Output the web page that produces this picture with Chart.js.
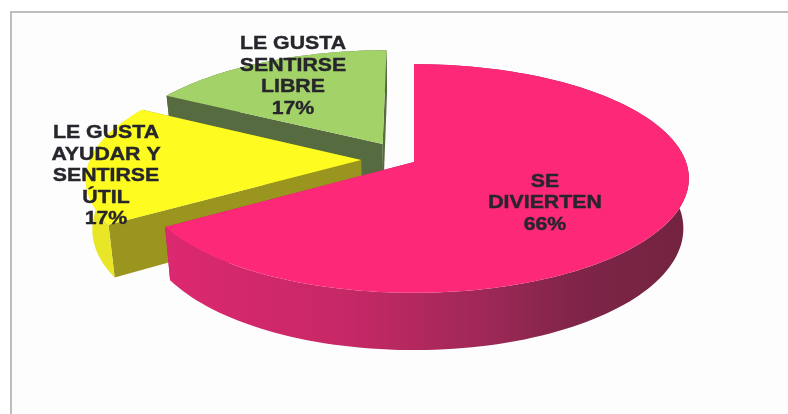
<!DOCTYPE html>
<html>
<head>
<meta charset="utf-8">
<style>
  html, body { margin: 0; padding: 0; background: #fff; overflow: hidden; }
  #frame { position: absolute; left: 10px; top: 11px; width: 778px; height: 403px; background: #fdfdfd;
           border-top: 2px solid #bdbdbd; border-left: 2px solid #bdbdbd; box-sizing: border-box; }
  canvas { position: absolute; left: 0; top: 0; }
</style>
<script src="https://cdn.jsdelivr.net/npm/chart.js@4"></script>
</head>
<body>
<div id="frame"></div>
<canvas id="pie" width="788" height="414"></canvas>
<script>
const categories = ["SE DIVIERTEN", "LE GUSTA AYUDAR Y SENTIRSE ÚTIL", "LE GUSTA SENTIRSE LIBRE"];
const values = [66, 17, 17];
const labelLines = [["SE", "DIVIERTEN"], ["LE GUSTA", "AYUDAR Y", "SENTIRSE", "ÚTIL"], ["LE GUSTA", "SENTIRSE", "LIBRE"]];

// styling, per slice
const topColors = ["#fd2878", "#fdfb1f", "#a3d268"];
const innerWallColors = ["#b02a60", "#99951f", "#566c40"];
const outerWallStops = [
    [[0, "#dc286f"], [0.35, "#c62866"], [0.6, "#a02858"], [0.78, "#802548"], [1, "#722340"]],
    [[0, "#e8e626"], [1, "#e8e626"]],
    [[0, "#566c40"], [1, "#566c40"]]
];
// how far each slice is pulled out, in radii (sideways, backwards)
const explode = [[0, 0], [-0.195, 0.018], [-0.118, 0.165]];
const labelCenters = [[545, 181.5], [106, 133], [293, 44]];

// perspective of the tilted pie
const SCALE_X = 272, SCALE_Y = 112, TILT = 0.144, DEPTH = 49, BOTTOM_SHRINK = 0.98;
const LINE_HEIGHT = 21.6, TEXT_STRETCH = 1.15;

function project(cx, cy, u, v, low) {
    const w = 1 + TILT * v;
    const k = low ? BOTTOM_SHRINK : 1;
    return {
        x: cx + SCALE_X * u / w * k,
        y: cy - SCALE_Y * v / w + (low ? DEPTH / w : 0)
    };
}

function tracePath(ctx, pts) {
    ctx.beginPath();
    pts.forEach((p, i) => i ? ctx.lineTo(p.x, p.y) : ctx.moveTo(p.x, p.y));
    ctx.closePath();
}

const pie3d = {
    id: "pie3d",
    beforeDatasetsDraw(chart) {
        const ctx = chart.ctx;
        const arcs = chart.getDatasetMeta(0).data;
        ctx.save();
        ctx.filter = "blur(0.5px)"; // the reference is a soft video frame

        // back slices first, the big one goes over them
        for (let i = arcs.length - 1; i >= 0; i--) {
            const arc = arcs[i];
            const ou = explode[i][0], ov = explode[i][1];
            const steps = Math.ceil((arc.endAngle - arc.startAngle) / 0.03);

            const rim = [], rimLow = [];
            for (let s = 0; s <= steps; s++) {
                const t = arc.startAngle + (arc.endAngle - arc.startAngle) * s / steps;
                const u = ou + Math.cos(t), v = ov - Math.sin(t);
                rim.push(project(arc.x, arc.y, u, v, false));
                rimLow.push(project(arc.x, arc.y, u, v, true));
            }
            const apex = project(arc.x, arc.y, ou, ov, false);
            const apexLow = project(arc.x, arc.y, ou, ov, true);

            // cut walls
            ctx.fillStyle = innerWallColors[i];
            tracePath(ctx, [apex, rim[0], rimLow[0], apexLow]);
            ctx.fill();
            tracePath(ctx, [apex, rim[steps], rimLow[steps], apexLow]);
            ctx.fill();

            // outer wall
            const xs = rim.map(p => p.x);
            const grad = ctx.createLinearGradient(Math.min(...xs), 0, Math.max(...xs), 0);
            outerWallStops[i].forEach(st => grad.addColorStop(st[0], st[1]));
            ctx.fillStyle = grad;
            tracePath(ctx, rim.concat(rimLow.slice().reverse()));
            ctx.fill();

            // top face
            ctx.fillStyle = topColors[i];
            tracePath(ctx, [apex].concat(rim));
            ctx.fill();
        }

        // labels
        ctx.fillStyle = "#26262c";
        ctx.strokeStyle = "#26262c";
        ctx.lineWidth = 0.4;
        ctx.font = "bold 18.5px 'Liberation Sans'";
        ctx.textAlign = "center";
        ctx.textBaseline = "middle";
        chart.data.labels.forEach((lines, i) => {
            const all = lines.concat(chart.data.datasets[0].data[i] + "%");
            all.forEach((line, n) => {
                ctx.save();
                ctx.translate(labelCenters[i][0], labelCenters[i][1] + n * LINE_HEIGHT);
                ctx.scale(TEXT_STRETCH, 1);
                ctx.fillText(line, 0, 0);
                ctx.strokeText(line, 0, 0);
                ctx.restore();
            });
        });
        ctx.restore();
        return false;
    }
};

new Chart(document.getElementById("pie"), {
    type: "pie",
    data: {
        labels: labelLines,
        datasets: [{ label: categories.join(", "), data: values, backgroundColor: topColors }]
    },
    options: {
        responsive: false,
        animation: false,
        layout: { padding: { left: 40, bottom: 90 } },
        plugins: { legend: { display: false }, tooltip: { enabled: false } }
    },
    plugins: [pie3d]
});
</script>
</body>
</html>
